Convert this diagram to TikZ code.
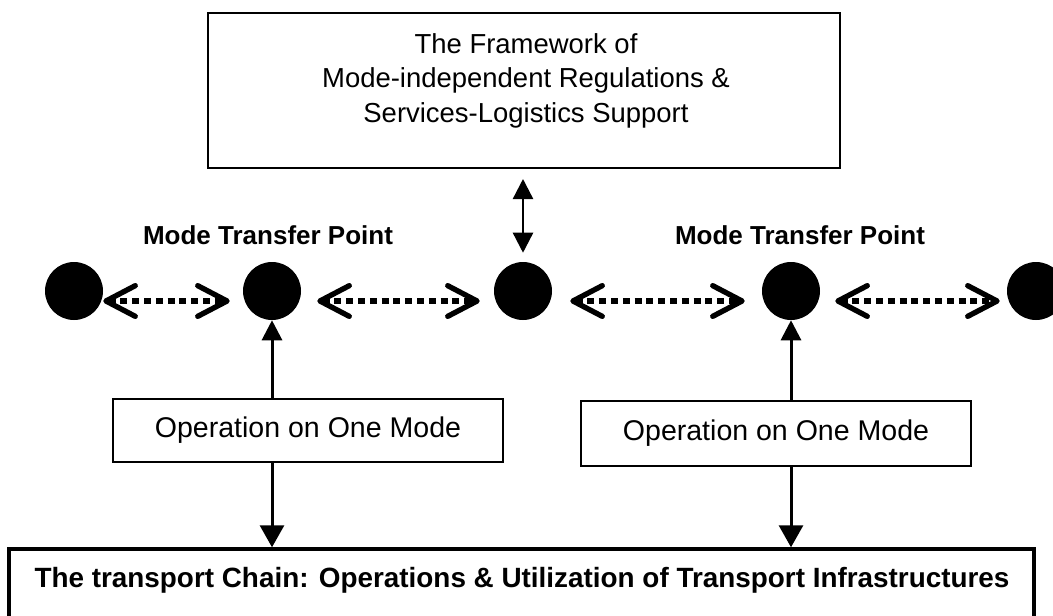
\documentclass[tikz,border=0pt]{standalone}
\usepackage{fontspec}
\setmainfont{Liberation Sans}
\usetikzlibrary{arrows.meta,calc}
\begin{document}
\begin{tikzpicture}[x=0.75pt,y=-0.75pt,
  box/.style={draw,line width=1.5pt,inner sep=0pt},
  opbox/.style={draw,line width=1.2pt,inner sep=0pt,
    font=\fontsize{21.4pt}{25pt}\selectfont},
  dot/.style={circle,fill=black,inner sep=0pt,minimum size=43.5pt},
  mtp/.style={font=\fontsize{19.5pt}{23pt}\selectfont\bfseries},
  transfer/.style={line width=4pt,dash pattern=on 5.25pt off 3.6pt,
    arrows={Straight Barb[length=22pt,width=23pt,round]-Straight Barb[length=22pt,width=23pt,round]}},
  link/.style={line width=1.8pt},
  updown/.style={line width=2.25pt}
]
\useasboundingbox (0,0) rectangle (1053,615);

% framework box
\node[box,minimum width=474pt,minimum height=116.25pt] (fw) at (524,90.5) {};
\node[anchor=north,inner sep=0pt,align=center,
  font=\fontsize{20.6pt}{25.9pt}\selectfont] (fwtext) at (526,33)
  {The Framework of\\Mode-independent Regulations \&\\Services-Logistics Support};

% mode transfer points
\node[dot] (p1) at (74,291) {};
\node[dot] (p2) at (272,291) {};
\node[dot] (p3) at (523,291) {};
\node[dot] (p4) at (791,291) {};
\node[dot] (p5) at (1036,291) {};

\node[mtp,anchor=base] (l2) at (268,244) {Mode Transfer Point};
\node[mtp,anchor=base] (l4) at (800,244) {Mode Transfer Point};

% single-mode operations
\node[opbox,minimum width=292.5pt,minimum height=47.25pt] (o1) at (308,430.5) {Operation on One Mode};
\node[opbox,minimum width=292.5pt,minimum height=48.75pt] (o2) at (776,433.5) {Operation on One Mode};

% transport chain
\node[draw,line width=2.6pt,inner sep=0pt,minimum width=768.75pt,minimum height=68.25pt] (tc) at (521.5,594.5) {};
\node[anchor=base,inner sep=0pt,font=\fontsize{20.9pt}{25pt}\selectfont\bfseries] (tctext) at (522,587)
  {The transport Chain: Operations \& Utilization of Transport Infrastructures};

% links between transfer points
\draw[transfer,shorten >=9.75pt] ([yshift=-7.5pt]p1.east) -- ([yshift=-7.5pt]p2.west);
\draw[transfer,shorten <=12pt,shorten >=10.5pt] ([yshift=-7.5pt]p2.east) -- ([yshift=-7.5pt]p3.west);
\draw[transfer,shorten <=13.5pt,shorten >=12.75pt] ([yshift=-7.5pt]p3.east) -- ([yshift=-7.5pt]p4.west);
\draw[transfer,shorten <=11.25pt,shorten >=5.25pt] ([yshift=-7.5pt]p4.east) -- ([yshift=-7.5pt]p5.west);

% framework to middle point
\draw[link,arrows={Triangle[length=15pt,width=15pt]-Triangle[length=15pt,width=15pt]},
  shorten <=7.5pt,shorten >=6.75pt] (fw.south -| p3) -- (p3.north);

% operations to points and to the chain
\draw[updown,-{Triangle[length=15pt,width=15pt]}] (o1.north -| p2) -- (p2.south);
\draw[updown,-{Triangle[length=16.5pt,width=18pt]}] (o1.south -| p2) -- (tc.north -| p2);
\draw[updown,-{Triangle[length=15pt,width=15pt]}] (o2.north -| p4) -- (p4.south);
\draw[updown,-{Triangle[length=16.5pt,width=18pt]}] (o2.south -| p4) -- (tc.north -| p4);
\end{tikzpicture}
\end{document}
